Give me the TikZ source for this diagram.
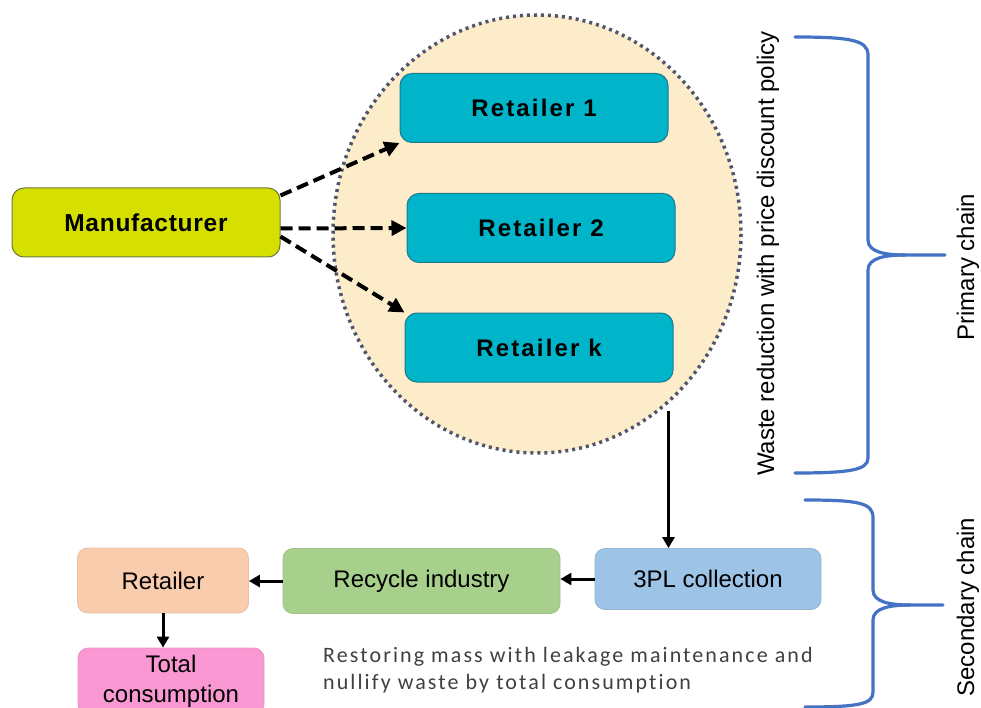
\documentclass[tikz,border=0pt]{standalone}
\usepackage{fontspec}
\setmainfont{Liberation Sans}
\newfontfamily\boxfont[LetterSpace=9]{Liberation Sans}
\newfontfamily\manfont[LetterSpace=3]{Liberation Sans}
\newfontfamily\notefont[LetterSpace=9.5,Ligatures=NoCommon]{Carlito}
\usetikzlibrary{arrows.meta,calc}

\definecolor{manfill}{RGB}{214,224,0}
\definecolor{manline}{RGB}{110,120,60}
\definecolor{retfill}{RGB}{0,180,202}
\definecolor{retline}{RGB}{30,120,140}
\definecolor{zonefill}{RGB}{253,236,202}
\definecolor{zoneline}{RGB}{80,85,110}
\definecolor{tplfill}{RGB}{157,195,230}
\definecolor{recfill}{RGB}{168,208,141}
\definecolor{shopfill}{RGB}{248,204,173}
\definecolor{totfill}{RGB}{250,152,212}
\definecolor{bracecol}{RGB}{68,114,196}
\definecolor{notecol}{RGB}{64,64,64}

\tikzset{
  mainbox/.style={draw=retline, line width=1pt, fill=retfill, rounded corners=12pt,
    minimum width=268pt, minimum height=69pt, inner sep=0pt,
    font=\boxfont\bfseries\fontsize{24}{28}\selectfont},
  makerbox/.style={mainbox, draw=manline, fill=manfill,
    font=\manfont\bfseries\fontsize{24.5}{28}\selectfont},
  flowbox/.style={rounded corners=10pt, line width=0.8pt, inner sep=0pt, align=center,
    font=\fontsize{24}{30}\selectfont},
  dasharrow/.style={line width=4pt, dash pattern=on 12pt off 6pt,
    -{Triangle[length=15pt,width=15pt]}},
  flowarrow/.style={line width=3pt, -{Triangle[length=11pt,width=12pt]}},
  bracepath/.style={draw=bracecol, line width=3.2pt, line cap=round},
  sidetext/.style={rotate=90, font=\fontsize{24}{28}\selectfont, inner sep=0pt}
}

\begin{document}
\begin{tikzpicture}[x=1pt,y=-1pt]
\useasboundingbox (0,0) rectangle (981,708);
\clip (0,0) rectangle (981,708);

% retailer zone
\fill[zonefill] (537,234) ellipse [x radius=204, y radius=219];
\draw[zoneline, line width=3.5pt, dash pattern=on 3pt off 4pt]
  (537,234) ellipse [x radius=204, y radius=219];

% primary chain
\node[makerbox] (man) at (146,222.5) {Manufacturer};
\node[mainbox] (r1) at (534,108) {Retailer 1};
\node[mainbox] (r2) at (541,228) {Retailer 2};
\node[mainbox] (rk) at (539,347.5) {Retailer k};

\draw[dasharrow] ([yshift=27pt]man.east) -- (r1.south west);
\draw[dasharrow] ([yshift=-6pt]man.east) -- (r2.west);
\draw[dasharrow] ([yshift=-14pt]man.east) -- (rk.north west);

% secondary chain
\node[flowbox, draw=tplfill!80!gray, fill=tplfill, minimum width=226pt, minimum height=61pt]
  (tpl) at (708,579) {3PL collection};
\node[flowbox, draw=recfill!80!gray, fill=recfill, minimum width=277pt, minimum height=65pt]
  (rec) at (421.5,581) {Recycle industry};
\node[flowbox, draw=shopfill!85!gray, fill=shopfill, minimum width=171pt, minimum height=65pt]
  (ret) at (163,580.5) {Retailer};
\node[flowbox, draw=totfill!85!gray, fill=totfill, minimum width=186pt, minimum height=66pt]
  (tot) at (171,681) {Total\\consumption};

\coordinate (drop) at ([xshift=-5pt,yshift=-28pt]rk.south east);
\draw[flowarrow] (drop) -- (drop |- tpl.north);
\draw[flowarrow] (tpl.west) -- (tpl.west -| rec.east);
\draw[flowarrow] (rec.west) -- (rec.west -| ret.east);
\draw[flowarrow] (ret.south) -- (ret.south |- tot.north);

\node[anchor=west, align=left, inner sep=0pt, text=notecol,
  font=\notefont\fontsize{22}{27}\selectfont] (note) at (323,670.5)
  {Restoring mass with leakage maintenance and\\nullify waste by total consumption};

% braces and side labels
\draw[bracepath] (795,37) .. controls (850,37) and (868,40) .. (868,55)
  -- (868,240) .. controls (868,252) and (885,255) .. (905,255) -- (945,255);
\draw[bracepath] (905,255) .. controls (885,255) and (868,258) .. (868,270)
  -- (868,458) .. controls (868,470) and (850,473) .. (795,473);
\draw[bracepath] (805,500) .. controls (860,500) and (873,503) .. (873,518)
  -- (873,590) .. controls (873,602) and (890,605) .. (910,605) -- (943,605);
\draw[bracepath] (910,605) .. controls (890,605) and (873,608) .. (873,620)
  -- (873,692) .. controls (873,704) and (860,707) .. (805,707);

\node[sidetext] (waste) at (768,253.5) {Waste reduction with price discount policy};
\node[sidetext] (prim) at (968,267) {Primary chain};
\node[sidetext] (sec) at (968,607) {Secondary chain};
\end{tikzpicture}
\end{document}
